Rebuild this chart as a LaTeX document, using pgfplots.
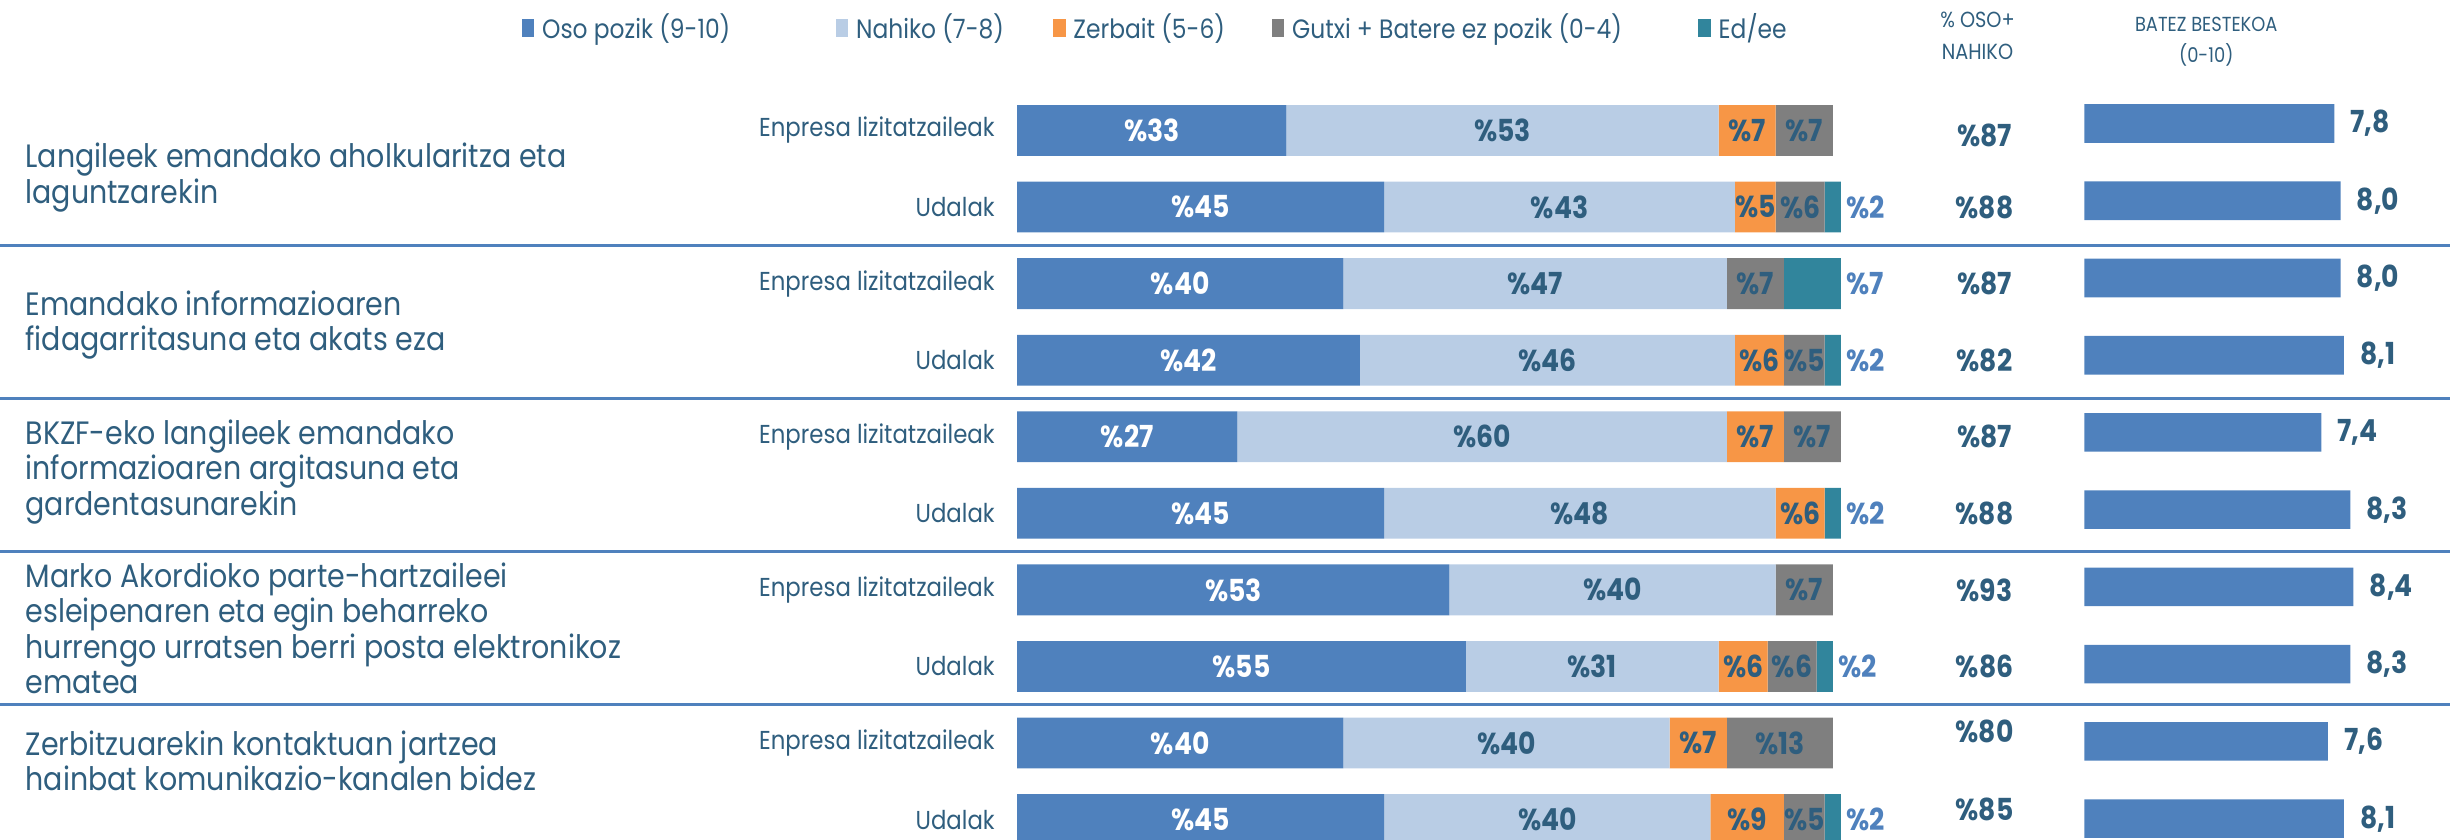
\documentclass[border=0pt]{standalone}
\usepackage{fontspec}
\setmainfont{Poppins}[FakeStretch=0.88]
\usepackage{pgfplots}
\pgfplotsset{compat=1.18}
\usepackage{pgfplotstable}

\definecolor{osoC}{HTML}{4F81BD}
\definecolor{nahC}{HTML}{B9CDE5}
\definecolor{zerC}{HTML}{F79646}
\definecolor{gutC}{HTML}{7F7F7F}
\definecolor{edC}{HTML}{31859C}
\definecolor{txt}{HTML}{2F5E7E}

\pgfplotstableread{
row oso nah zer gut ed
0 33 53 7 7 0
1 45 43 5 6 2
2 40 47 0 7 7
3 42 46 6 5 2
4 27 60 7 7 0
5 45 48 6 0 2
6 53 40 0 7 0
7 55 31 6 6 2
8 40 40 7 13 0
9 45 40 9 5 2
}\satis

\pgfplotstableread{
row avg pct off
0 7.8 87 0.07
1 8.0 88 0
2 8.0 87 0
3 8.1 82 0
4 7.4 87 0
5 8.3 88 0
6 8.4 93 0
7 8.3 86 0
8 7.6 80 -0.15
9 8.1 85 -0.13
}\summ

\newcommand\lblfont{\fontsize{9.7}{11}\selectfont\bfseries}
\pgfplotsset{
  seglabel/.style={
    only marks, mark=*, mark size=0pt, mark options={draw=none, fill=none},
    point meta=explicit symbolic,
    nodes near coords={\ifnum\pgfplotspointmeta>0 \%\pgfplotspointmeta\fi},
    every node near coord/.append style={anchor=center, text=#1, font=\lblfont, inner sep=0pt},
  },
  rowaxis/.style={
    at={(325.5pt,-29.5pt)}, anchor=north west,
    scale only axis, width=261pt, height=245pt,
    xmin=0, xmax=100, ymin=-0.5, ymax=9.5, y dir=reverse, clip=false,
  },
}

\begin{document}
\begin{tikzpicture}
\path[use as bounding box] (0pt,0pt) rectangle (784pt,-268.5pt);
\clip (0pt,0pt) rectangle (784pt,-268.5pt);

% left group labels
\begin{scope}[every node/.style={anchor=west, align=left, inner sep=0pt, text=txt,
   font=\fontsize{10.35}{11.35}\selectfont}]
\node at (8pt,-56.8pt) {Langileek emandako aholkularitza eta\\laguntzarekin};
\node at (8pt,-104pt) {Emandako informazioaren\\fidagarritasuna eta akats eza};
\node at (8pt,-151pt) {BKZF-eko langileek emandako\\informazioaren argitasuna eta\\gardentasunarekin};
\node at (8pt,-201pt) {Marko Akordioko parte-hartzaileei\\esleipenaren eta egin beharreko\\hurrengo urratsen berri posta elektronikoz\\ematea};
\node at (8pt,-243.5pt) {Zerbitzuarekin kontaktuan jartzea\\hainbat komunikazio-kanalen bidez};
\end{scope}

% column headers
\node[align=center, inner sep=0pt, text=txt, font=\fontsize{7}{10}\selectfont] at (632.8pt,-11.5pt) {\% OSO+\\NAHIKO};
\node[align=center, inner sep=0pt, text=txt, font=\fontsize{6.5}{10}\selectfont] at (706pt,-13.25pt) {BATEZ BESTEKOA\\(0-10)};

% main stacked bars
\begin{axis}[
  rowaxis,
  xbar stacked, bar width=16.25pt,
  axis line style={draw=none}, major tick length=0pt,
  xtick=\empty, ytick={0,...,9},
  yticklabels={Enpresa lizitatzaileak,Udalak,Enpresa lizitatzaileak,Udalak,Enpresa lizitatzaileak,Udalak,Enpresa lizitatzaileak,Udalak,Enpresa lizitatzaileak,Udalak},
  yticklabel style={font=\fontsize{8.3}{9}\selectfont, text=txt, inner sep=0pt, anchor=east, xshift=-7pt},
  legend image code/.code={\fill[#1] (0pt,-2.9pt) rectangle (4pt,2.9pt); \path (6.5pt,0pt);},
  legend columns=5,
  legend style={at={(-0.6073,1.0837)}, anchor=west, draw=none, fill=none, inner sep=0pt, outer sep=0pt,
    column sep=0pt, nodes={inner sep=0pt}, font=\fontsize{8.5}{9}\selectfont, text=txt},
]
\addplot[fill=osoC, draw=none] table[x=oso, y=row]{\satis};
\addlegendentry{\makebox[94pt][l]{Oso pozik (9-10)}}
\addplot[fill=nahC, draw=none] table[x=nah, y=row]{\satis};
\addlegendentry{\makebox[63pt][l]{Nahiko (7-8)}}
\addplot[fill=zerC, draw=none] table[x=zer, y=row]{\satis};
\addlegendentry{\makebox[63.5pt][l]{Zerbait (5-6)}}
\addplot[fill=gutC, draw=none] table[x=gut, y=row]{\satis};
\addlegendentry{\makebox[130pt][l]{Gutxi + Batere ez pozik (0-4)}}
\addplot[fill=edC, draw=none] table[x=ed, y=row]{\satis};
\addlegendentry{Ed/ee}
\draw[osoC, line width=0.9pt] (axis cs:-124.71,1.5) -- (axis cs:175.67,1.5);
\draw[osoC, line width=0.9pt] (axis cs:-124.71,3.5) -- (axis cs:175.67,3.5);
\draw[osoC, line width=0.9pt] (axis cs:-124.71,5.5) -- (axis cs:175.67,5.5);
\draw[osoC, line width=0.9pt] (axis cs:-124.71,7.5) -- (axis cs:175.67,7.5);
\end{axis}

% segment labels and % OSO + NAHIKO column
\begin{axis}[rowaxis, hide axis]
\addplot[seglabel=white] table[x expr={\thisrow{oso}/2}, y=row, meta=oso]{\satis};
\addplot[seglabel=txt] table[x expr={\thisrow{oso}+\thisrow{nah}/2}, y=row, meta=nah]{\satis};
\addplot[seglabel=txt] table[x expr={\thisrow{oso}+\thisrow{nah}+\thisrow{zer}/2}, y=row, meta=zer]{\satis};
\addplot[seglabel=txt] table[x expr={\thisrow{oso}+\thisrow{nah}+\thisrow{zer}+\thisrow{gut}/2}, y=row, meta=gut]{\satis};
\addplot[seglabel=osoC, every node near coord/.append style={anchor=west, xshift=1.5pt}]
   table[x expr={\thisrow{oso}+\thisrow{nah}+\thisrow{zer}+\thisrow{gut}+\thisrow{ed}}, y=row, meta=ed]{\satis};
\addplot[seglabel=txt] table[x expr=118.6, y expr=\thisrow{row}+\thisrow{off}, meta=pct]{\summ};
\end{axis}

% averages
\begin{axis}[
  at={(667pt,-27.14pt)}, anchor=north west,
  scale only axis, width=102.5pt, height=247.2pt,
  xmin=0, xmax=10, ymin=-0.5, ymax=9.5, y dir=reverse,
  xbar, bar width=12.35pt, hide axis, clip=false,
  point meta=x,
  /pgf/number format/assume math mode=true,
  nodes near coords={\pgfmathprintnumber[fixed, fixed zerofill, precision=1, use comma, assume math mode=true]{\pgfplotspointmeta}},
  every node near coord/.append style={anchor=west, text=txt, font=\lblfont, inner sep=0pt, xshift=5pt},
]
\addplot[fill=osoC, draw=none] table[x=avg, y=row]{\summ};
\end{axis}
\end{tikzpicture}
\end{document}
